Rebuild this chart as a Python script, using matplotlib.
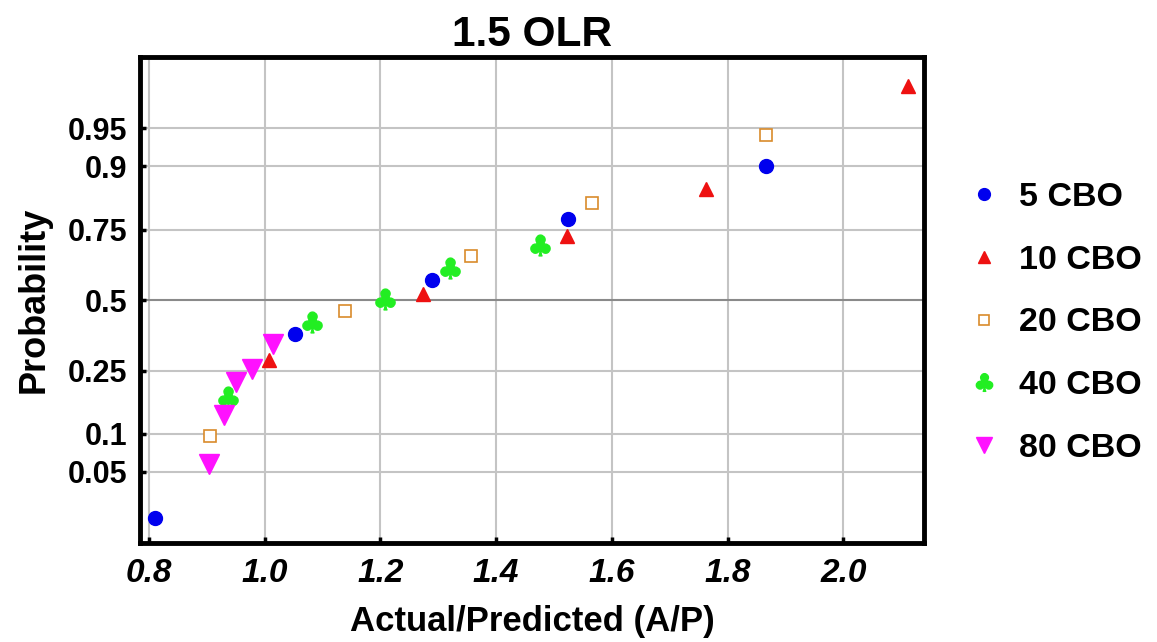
import matplotlib
matplotlib.use('Agg')
import matplotlib.pyplot as plt
import numpy as np
from statistics import NormalDist

plt.rcParams['font.family'] = ['Liberation Sans', 'DejaVu Sans']

# data: A/P ratio vs cumulative probability
cbo5_x = [0.81, 1.052, 1.289, 1.524, 1.867]
cbo5_p = [0.0185, 0.373, 0.575, 0.78, 0.90]
cbo10_x = [1.007, 1.273, 1.523, 1.763, 2.111]
cbo10_p = [0.284, 0.524, 0.731, 0.856, 0.98]
cbo20_x = [0.905, 1.138, 1.357, 1.566, 1.867]
cbo20_p = [0.0967, 0.458, 0.662, 0.825, 0.943]
cbo40_x = [0.937, 1.081, 1.208, 1.320, 1.475]
cbo40_p = [0.176, 0.418, 0.503, 0.621, 0.702]
cbo80_x = [0.904, 0.930, 0.951, 0.978, 1.014]
cbo80_p = [0.058, 0.136, 0.216, 0.256, 0.337]

yticks = [0.05, 0.1, 0.25, 0.5, 0.75, 0.9, 0.95]
ytick_labels = ['0.05', '0.1', '0.25', '0.5', '0.75', '0.9', '0.95']
xticks = [0.8, 1.0, 1.2, 1.4, 1.6, 1.8, 2.0]
xtick_labels = ['0.8', '1.0', '1.2', '1.4', '1.6', '1.8', '2.0']

# normal probability scale
_nd = NormalDist()
_ppf = np.vectorize(_nd.inv_cdf, otypes=[float])
_cdf = np.vectorize(_nd.cdf, otypes=[float])

def fwd(p):
    p = np.clip(np.asarray(p, dtype=float), 1e-9, 1 - 1e-9)
    return _ppf(p)

def inv(z):
    return _cdf(np.asarray(z, dtype=float))

fig = plt.figure(figsize=(11.57, 6.42), dpi=100)
ax = fig.add_axes([0.121, 0.154, 0.678, 0.757])
ax.set_yscale('function', functions=(fwd, inv))
ax.set_xlim(0.7845, 2.14)
ax.set_ylim(0.01, 0.99)

# grid
for xv in xticks:
    ax.axvline(xv, color='#c4c4c4', lw=1.5, zorder=1)
for yv in yticks:
    ax.axhline(yv, color='#8a8a8a' if yv == 0.5 else '#c4c4c4', lw=1.5, zorder=1)

ax.plot(cbo5_x, cbo5_p, 'o', ls='none', color='#0000ee', ms=10, label='5 CBO', zorder=3)
ax.plot(cbo10_x, cbo10_p, '^', ls='none', color='#ee1111', ms=10, label='10 CBO', zorder=3)
ax.plot(cbo20_x, cbo20_p, 's', ls='none', mfc='white', mec='#d98b2b', mew=1.2, ms=8,
        label='20 CBO', zorder=3)
ax.plot(cbo40_x, cbo40_p, marker='$\\clubsuit$', ls='none', color='#22ee22', ms=15,
        label='40 CBO', zorder=3)
ax.plot(cbo80_x, cbo80_p, 'v', ls='none', color='#ff11ff', ms=14, label='80 CBO', zorder=3)

ax.set_xticks(xticks)
ax.set_xticklabels(xtick_labels, fontsize=24, fontweight='bold', fontstyle='italic')
ax.set_yticks(yticks)
ax.set_yticklabels(ytick_labels, fontsize=22, fontweight='bold')
ax.yaxis.set_minor_locator(matplotlib.ticker.NullLocator())
ax.tick_params(direction='in', length=4, width=2.5, pad=9)
ax.tick_params(axis='x', pad=11)
for s in ax.spines.values():
    s.set_linewidth(3.5)

ax.set_title('1.5 OLR', fontsize=30.5, fontweight='bold', pad=8)
ax.set_xlabel('Actual/Predicted (A/P)', fontsize=25, fontweight='bold', labelpad=11)
ax.set_ylabel('Probability', fontsize=26, fontweight='bold', labelpad=12)

leg = fig.legend(loc='center left', bbox_to_anchor=(0.809, 0.497), frameon=False,
                 prop={'weight': 'bold', 'size': 24.5},
                 labelspacing=0.93, handletextpad=0.55, handlelength=1.0, markerscale=0.85)

fig.savefig('out.png', dpi=100)
